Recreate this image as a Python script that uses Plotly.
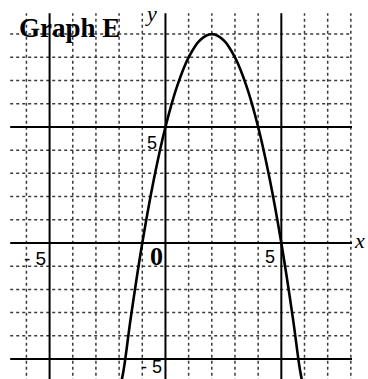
import plotly.graph_objects as go

# Data
curve_x = [-1.95, -1.8, -1.5, -1.0, -0.5, 0.0, 0.5, 1.0, 1.5, 2.0, 2.5, 3.0, 3.5, 4.0, 4.5, 5.0, 5.5, 5.8, 5.95]
curve_y = [-6.2, -5.44, -3.25, 0.0, 2.75, 5.0, 6.75, 8.0, 8.75, 9.0, 8.75, 8.0, 6.75, 5.0, 2.75, 0.0, -3.25, -5.44, -6.2]

minor_vx = [-6, -4, -3, -2, -1, 1, 2, 3, 4, 6, 7, 8]
major_vx = [-5, 0, 5]
minor_hy = [-4, -3, -2, -1, 1, 2, 3, 4, 6, 7, 8, 9]
major_hy = [-5, 0, 5]

X_LEFT, X_RIGHT = -6.7, 8.05
Y_TOP, Y_BOT = 9.9, -6.5


def vlines(xs):
    px, py = [], []
    for v in xs:
        px += [v, v, None]
        py += [Y_BOT, Y_TOP, None]
    return px, py


def hlines(ys):
    px, py = [], []
    for v in ys:
        px += [X_LEFT, X_RIGHT, None]
        py += [v, v, None]
    return px, py


fig = go.Figure()

dot_style = dict(color="#3a3a3a", width=1.5, dash="dot")
for fn, vals in ((vlines, minor_vx), (hlines, minor_hy)):
    gx, gy = fn(vals)
    fig.add_trace(go.Scatter(x=gx, y=gy, mode="lines", line=dot_style, hoverinfo="skip", showlegend=False))

solid_style = dict(color="black", width=2)
for fn, vals in ((vlines, major_vx), (hlines, major_hy)):
    gx, gy = fn(vals)
    fig.add_trace(go.Scatter(x=gx, y=gy, mode="lines", line=solid_style, hoverinfo="skip", showlegend=False))

fig.add_trace(go.Scatter(x=curve_x, y=curve_y, mode="lines", line=dict(color="black", width=2.6, shape="spline"),
                         hoverinfo="skip", showlegend=False))

serif = "Liberation Serif, Times New Roman, serif"
sans = "Liberation Sans, Arial, sans-serif"
annots = [
    dict(x=-6.42, y=9.27, text="<b>Graph E</b>", font=dict(family=serif, size=27, color="black"), xanchor="left", yanchor="middle"),
    dict(x=-0.3, y=9.88, text="<i>y</i>", font=dict(family=serif, size=22, color="black"), xanchor="right", yanchor="middle"),
    dict(x=8.7, y=0.1, text="<i>x</i>", font=dict(family=serif, size=22, color="black"), xanchor="right", yanchor="middle"),
    dict(x=-0.56, y=4.3, text="5", font=dict(family=sans, size=18, color="black"), xanchor="center", yanchor="middle"),
    dict(x=-5.65, y=-0.66, text="- 5", font=dict(family=sans, size=19, color="black"), xanchor="center", yanchor="middle"),
    dict(x=-0.4, y=-0.58, text="<b>0</b>", font=dict(family=serif, size=26, color="black"), xanchor="center", yanchor="middle"),
    dict(x=4.52, y=-0.62, text="5", font=dict(family=sans, size=18, color="black"), xanchor="center", yanchor="middle"),
    dict(x=-0.62, y=-5.84, text="- 5", font=dict(family=sans, size=18, color="black"), xanchor="center", yanchor="bottom"),
]
for a in annots:
    fig.add_annotation(showarrow=False, xref="x", yref="y", **a)

fig.update_layout(
    width=368, height=379, autosize=False,
    margin=dict(l=0, r=0, t=0, b=0, pad=0),
    paper_bgcolor="white", plot_bgcolor="white",
    xaxis=dict(range=[-7.14, 8.74], visible=False, fixedrange=True),
    yaxis=dict(range=[-5.86, 10.47], visible=False, fixedrange=True),
    showlegend=False,
)

fig.write_html("out.html", config={"displayModeBar": False},
               post_script="document.body.style.margin='0';document.body.style.padding='0';")
